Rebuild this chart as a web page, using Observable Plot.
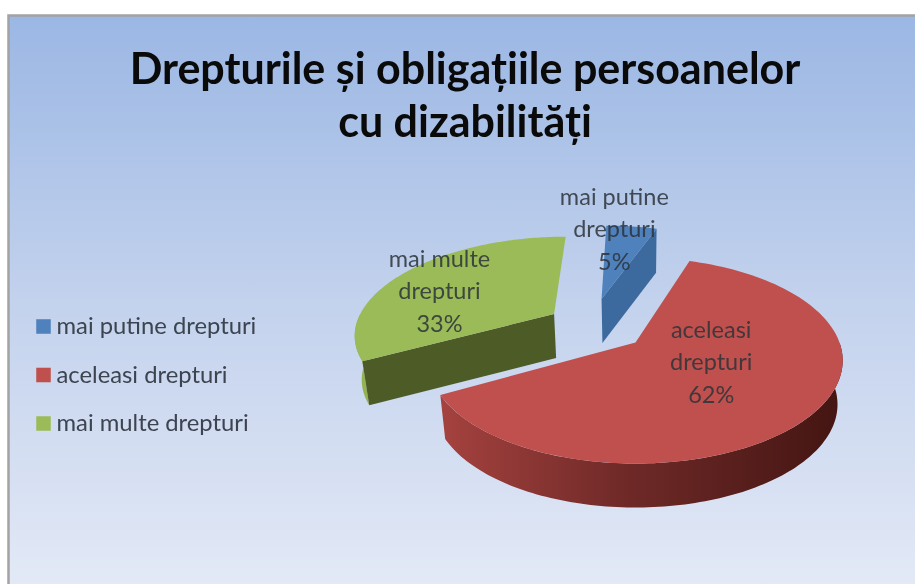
<!DOCTYPE html>
<html><head><meta charset="utf-8">
<script src="https://cdn.jsdelivr.net/npm/d3@7"></script>
<script src="https://cdn.jsdelivr.net/npm/@observablehq/plot@0.6"></script>
<style>html,body{margin:0;padding:0;background:#fff;overflow:hidden}svg{display:block;font-family:Lato,sans-serif;filter:blur(.6px)}</style>
</head><body><div id="chart"></div>
<script>
const categories = ["mai putine drepturi", "aceleasi drepturi", "mai multe drepturi"];
const values = [5, 62, 33];
const wrapped = ["mai putine\ndrepturi", "aceleasi\ndrepturi", "mai multe\ndrepturi"];
const titleLines = "Drepturile și obligațiile persoanelor\ncu dizabilități";

// look of the tilted, exploded pie
const tops = ["#4f81bd", "#c0504d", "#9bbb59"];
const cuts = ["#3d6a9e", "#7a2e2c", "#4d5b27"];
const rims = ["#3d6a9e", "url(#redWall)", "#93b352"];
const explode = [[-.18, .47], [0, 0], [-.42, .3]];
const labelAt = [[-.13, 1.45], [.36, -.17], [-1.06, .59]];
const k = .1747, depth = .44, floorScale = .975;

const project = (u, v) => { const s = 1 / (1 + k * v); return [u * s, v * s]; };
const total = d3.sum(values);
let acc = 0;
const slices = values.map((val, i) => {
  const a0 = acc / total * 2 * Math.PI; acc += val;
  return {i, a0, a1: acc / total * 2 * Math.PI, off: explode[i]};
});
const rimPoint = (sl, a) => project(sl.off[0] + Math.sin(a), sl.off[1] + Math.cos(a));
const arc = (sl, a0, a1) => d3.range(0, 121).map(n => rimPoint(sl, a0 + (a1 - a0) * n / 120));
const down = p => [p[0] * floorScale, p[1] - depth];
const hub = sl => project(sl.off[0], sl.off[1]);
const pts = ring => ring.map(([x, y]) => ({x, y}));

const layer = (ring, fill) => Plot.line(pts(ring), {x: "x", y: "y", fill, stroke: "none", curve: "linear"});
const marks = [];
// back to front: blue, green, red
for (const sl of [slices[0], slices[2], slices[1]]) {
  const lo = Math.max(sl.a0, Math.PI / 2), hi = Math.min(sl.a1, 3 * Math.PI / 2);
  if (hi > lo) { const r = arc(sl, lo, hi); marks.push(layer([...r, ...r.map(down).reverse()], rims[sl.i])); }
  if (Math.sin(sl.a0) < -1e-6) { const a = rimPoint(sl, sl.a0), h = hub(sl); marks.push(layer([h, a, down(a), down(h)], cuts[sl.i])); }
  if (Math.sin(sl.a1) > 1e-6) { const a = rimPoint(sl, sl.a1), h = hub(sl); marks.push(layer([h, a, down(a), down(h)], cuts[sl.i])); }
  marks.push(layer([hub(sl), ...arc(sl, sl.a0, sl.a1)], tops[sl.i]));
}

const defs = () => {
  const d = d3.create("svg:defs");
  const grad = (id, stops, x2, y2) => {
    const g = d.append("linearGradient").attr("id", id).attr("x1", 0).attr("y1", 0).attr("x2", x2).attr("y2", y2);
    stops.forEach(([o, c]) => g.append("stop").attr("offset", o).attr("stop-color", c));
  };
  grad("bg", [[0, "#9bb7e4"], [.5, "#c3d2ed"], [1, "#e3e9f6"]], 0, 1);
  grad("redWall", [[0, "#a5423f"], [.45, "#702a28"], [1, "#431512"]], 1, 0);
  return d.node();
};

const labels = slices.map(sl => {
  const [x, y] = project(...labelAt[sl.i]);
  return {x, y, text: `${wrapped[sl.i]}\n${values[sl.i]}%`};
});

const legend = categories.flatMap((c, i) => [
  Plot.dot([c], {frameAnchor: "top-left", dx: 43, dy: 326 + 48.5 * i, symbol: "square", r: 8.2, fill: tops[i], stroke: "none"}),
  Plot.text([c], {frameAnchor: "top-left", dx: 56, dy: 326 + 48.5 * i, lineAnchor: "middle", text: d => d, textAnchor: "start", fontSize: 23.8, fill: "#3c4450"})
]);

const chart = Plot.plot({
  width: 915, height: 584, margin: 0,
  style: {background: "#fff", overflow: "hidden"},
  x: {axis: null, domain: [-635 / 204, 280 / 204], range: [0, 915]},
  y: {axis: null, domain: [342 / 99.9, -242 / 99.9], range: [0, 584]},
  marks: [
    defs,
    Plot.frame({fill: "url(#bg)", stroke: "#a3a3a3", strokeWidth: 2.5, insetLeft: 8, insetTop: 15, insetRight: -4, insetBottom: -4}),
    ...marks,
    Plot.text(labels, {x: "x", y: "y", text: "text", fontSize: 23.5, lineHeight: 1.38, fill: "#2c3238", fillOpacity: .85}),
    ...legend,
    Plot.text([titleLines], {frameAnchor: "top", dx: 7, dy: 45, lineAnchor: "top", text: d => d, fontSize: 43, fontWeight: 700, lineHeight: 1.25, fill: "#0a0a0a"})
  ]
});
document.getElementById("chart").append(chart);
</script></body></html>
